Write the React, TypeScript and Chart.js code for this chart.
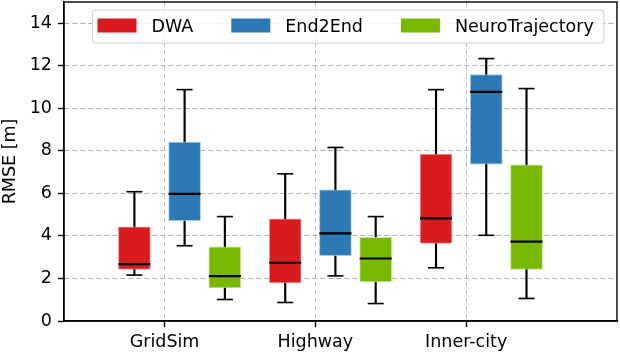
import React, { useEffect, useRef } from 'react';
import { Chart, registerables } from 'chart.js';

Chart.register(...registerables);

// ---- data ----
const categories = ['GridSim', 'Highway', 'Inner-city'];
const seriesNames = ['DWA', 'End2End', 'NeuroTrajectory'];
// each entry: [min, q1, median, q3, max]
const dwa = [
  [2.16, 2.42, 2.67, 4.43, 6.08],
  [0.87, 1.79, 2.74, 4.8, 6.92],
  [2.5, 3.65, 4.83, 7.85, 10.88],
];
const end2end = [
  [3.54, 4.72, 5.98, 8.41, 10.88],
  [2.12, 3.07, 4.12, 6.17, 8.16],
  [4.03, 7.38, 10.77, 11.59, 12.34],
];
const neuro = [
  [1.01, 1.56, 2.11, 3.49, 4.91],
  [0.82, 1.84, 2.94, 3.93, 4.91],
  [1.06, 2.42, 3.73, 7.34, 10.93],
];
const yTicks = [0, 2, 4, 6, 8, 10, 12, 14];

// ---- styling ----
const seriesColors = ['#d81b1e', '#2c79b5', '#77b800'];
const seriesEdges = ['rgba(235,140,140,0.8)', 'rgba(150,190,225,0.8)', 'rgba(190,225,140,0.8)'];
const boxOffsets = [-0.2, 0.133, 0.4];
const FONT = '"DejaVu Sans", "Liberation Sans", sans-serif';
const FS = 17.5;

const framePlugin = {
  id: 'frameAndLegend',
  afterDraw(chart: any) {
    const ctx = chart.ctx as CanvasRenderingContext2D;
    const a = chart.chartArea;
    ctx.save();
    ctx.strokeStyle = '#000';
    ctx.lineWidth = 1.4;
    ctx.strokeRect(a.left, a.top, a.right - a.left, a.bottom - a.top);

    // legend
    ctx.font = `${FS}px ${FONT}`;
    const x0 = 92.5;
    const y0 = 10;
    const h = 33;
    const patchW = 39;
    const patchH = 14;
    const textGap = 15;
    const itemGap = 38;
    let x = x0 + 5;
    const pos: { px: number; tx: number }[] = [];
    seriesNames.forEach((n) => {
      const tx = x + patchW + textGap;
      pos.push({ px: x, tx });
      x = tx + ctx.measureText(n).width + itemGap;
    });
    const right = x - itemGap + 10;
    const w = right - x0;
    const r = 3;
    ctx.beginPath();
    ctx.moveTo(x0 + r, y0);
    ctx.lineTo(x0 + w - r, y0);
    ctx.arcTo(x0 + w, y0, x0 + w, y0 + r, r);
    ctx.lineTo(x0 + w, y0 + h - r);
    ctx.arcTo(x0 + w, y0 + h, x0 + w - r, y0 + h, r);
    ctx.lineTo(x0 + r, y0 + h);
    ctx.arcTo(x0, y0 + h, x0, y0 + h - r, r);
    ctx.lineTo(x0, y0 + r);
    ctx.arcTo(x0, y0, x0 + r, y0, r);
    ctx.closePath();
    ctx.fillStyle = 'rgba(255,255,255,0.85)';
    ctx.fill();
    ctx.strokeStyle = '#d0d0d0';
    ctx.lineWidth = 1;
    ctx.stroke();
    seriesNames.forEach((n, i) => {
      ctx.fillStyle = seriesColors[i];
      ctx.fillRect(pos[i].px, 18.5, patchW, patchH);
      ctx.fillStyle = '#000';
      ctx.textBaseline = 'alphabetic';
      ctx.textAlign = 'left';
      ctx.fillText(n, pos[i].tx, 32);
    });
    ctx.restore();
  },
};

export default function App() {
  const ref = useRef<HTMLCanvasElement>(null);
  useEffect(() => {
    if (!ref.current) return;
    const series = [dwa, end2end, neuro];
    const datasets: any[] = [];
    series.forEach((s, si) => {
      const xs = s.map((_, ci) => ci + 1 + boxOffsets[si]);
      datasets.push({
        type: 'bar',
        label: seriesNames[si] + ' whiskers',
        data: s.map((st, ci) => ({ x: xs[ci], y: [st[0], st[4]] })),
        backgroundColor: '#000',
        barThickness: 1.5,
        grouped: false,
        order: 5,
      });
      datasets.push({
        type: 'bar',
        label: seriesNames[si],
        data: s.map((st, ci) => ({ x: xs[ci], y: [st[1], st[3]] })),
        backgroundColor: seriesColors[si],
        borderColor: seriesEdges[si],
        borderWidth: 1,
        borderSkipped: false,
        barThickness: 32,
        grouped: false,
        order: 4,
      });
      datasets.push({
        type: 'scatter',
        label: seriesNames[si] + ' caps',
        data: s.flatMap((st, ci) => [
          { x: xs[ci], y: st[0] },
          { x: xs[ci], y: st[4] },
        ]),
        pointStyle: 'line',
        pointRadius: 8,
        pointBorderWidth: 1.6,
        pointBorderColor: '#000',
        borderColor: '#000',
        showLine: false,
        order: 3,
      });
      datasets.push({
        type: 'scatter',
        label: seriesNames[si] + ' median',
        data: s.map((st, ci) => ({ x: xs[ci], y: st[2] })),
        pointStyle: 'line',
        pointRadius: 16,
        pointBorderWidth: 2.2,
        pointBorderColor: '#000',
        borderColor: '#000',
        showLine: false,
        order: 2,
      });
    });

    const chart = new Chart(ref.current, {
      type: 'bar',
      data: { datasets },
      options: {
        animation: false,
        responsive: false,
        devicePixelRatio: 1,
        events: [],
        layout: { autoPadding: false, padding: { top: 2, right: 3, left: 0, bottom: 0 } },
        plugins: { legend: { display: false }, tooltip: { enabled: false }, title: { display: false } },
        scales: {
          x: {
            type: 'linear',
            min: 1 / 3,
            max: 4,
            offset: false,
            afterBuildTicks: (scale: any) => {
              scale.ticks = categories.map((_, i) => ({ value: i + 1 }));
            },
            afterFit: (scale: any) => {
              scale.height = 31;
              scale.paddingLeft = 0;
              scale.paddingRight = 0;
              scale.paddingTop = 0;
              scale.paddingBottom = 0;
            },
            ticks: {
              autoSkip: false,
              maxRotation: 0,
              padding: 5,
              color: '#000',
              font: { family: FONT, size: FS },
              callback: (v: any) => categories[Math.round(Number(v)) - 1] ?? '',
            },
            grid: {
              offset: false,
              color: '#c0c0c0',
              lineWidth: 1,
              tickLength: 6,
              tickColor: '#000',
              tickWidth: 1.4,
            },
            border: { display: true, color: '#000', width: 1.4, dash: [5, 3] },
          },
          y: {
            type: 'linear',
            min: 0,
            max: 15,
            afterBuildTicks: (scale: any) => {
              scale.ticks = yTicks.map((v) => ({ value: v }));
            },
            afterFit: (scale: any) => {
              scale.width = 64;
              scale.paddingTop = 0;
              scale.paddingBottom = 0;
              scale.paddingLeft = 0;
              scale.paddingRight = 0;
            },
            ticks: {
              padding: 6,
              color: '#000',
              font: { family: FONT, size: FS },
            },
            grid: {
              color: '#b0b0b0',
              lineWidth: 1,
              tickLength: 6,
              tickColor: '#000',
              tickWidth: 1.4,
            },
            border: { display: true, color: '#000', width: 1.4, dash: [5, 3] },
            title: {
              display: true,
              text: 'RMSE [m]',
              color: '#000',
              font: { family: FONT, size: FS },
              padding: { top: 0, bottom: 0 },
            },
          },
        },
      },
      plugins: [framePlugin],
    } as any);
    return () => chart.destroy();
  }, []);

  return (
    <div style={{ position: 'absolute', left: 0, top: 0, width: 620, height: 352, background: '#fff' }}>
      <canvas ref={ref} width={620} height={352} style={{ display: 'block', width: 620, height: 352 }} />
    </div>
  );
}
